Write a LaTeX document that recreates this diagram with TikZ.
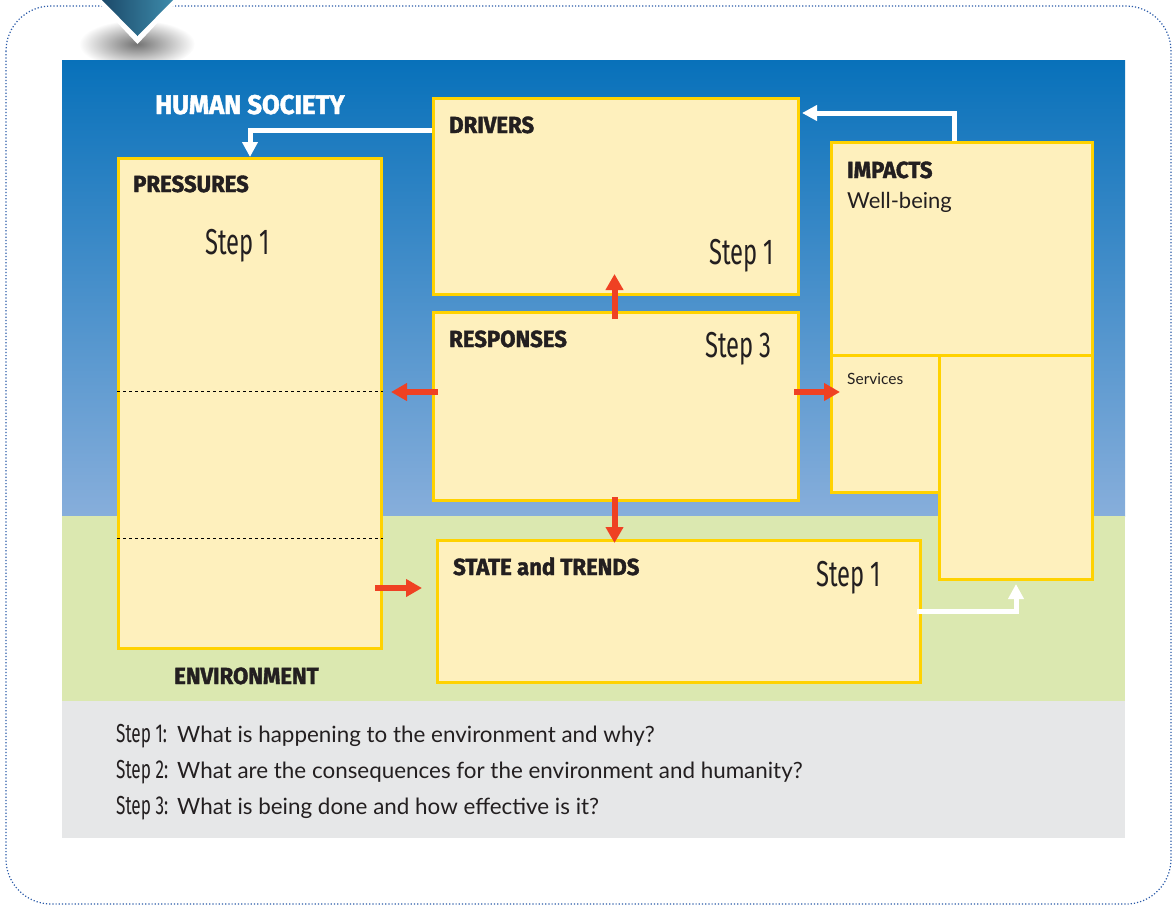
\documentclass[tikz,border=0pt]{standalone}
\usepackage{fontspec}
\setmainfont{Lato}
\newfontfamily\hfont[FakeStretch=0.95, FakeBold=1.6]{Fira Sans Bold}
\newfontfamily\stfont[FakeStretch=0.66]{Fira Sans}
\usetikzlibrary{arrows.meta}
\definecolor{boxfill}{HTML}{FEF0BD}
\definecolor{boxline}{HTML}{FFD200}
\definecolor{skytop}{HTML}{0871BA}
\definecolor{skybot}{HTML}{87AEDB}
\definecolor{landc}{HTML}{DBE8B0}
\definecolor{greyc}{HTML}{E6E7E8}
\definecolor{redc}{HTML}{EF4123}
\definecolor{txt}{HTML}{231F20}
\definecolor{framec}{HTML}{2A5AA8}
\definecolor{tabL}{HTML}{1C4A6A}
\definecolor{tabR}{HTML}{3D8BAB}
\tikzset{
  box/.style={draw=boxline, fill=boxfill, line width=3pt, anchor=north west, inner sep=0pt},
  head/.style={font=\hfont\fontsize{23.3}{23.3}\selectfont, text=txt, anchor=base west, inner sep=0pt},
  stepl/.style={font=\stfont\fontsize{36}{36}\selectfont, text=txt, anchor=base west, inner sep=0pt},
  body/.style={font=\fontsize{22}{22}\selectfont, text=txt, anchor=base west, inner sep=0pt},
  qline/.style={font=\fontsize{22.4}{22.4}\selectfont, text=txt, anchor=base west, inner sep=0pt},
  warrow/.style={draw=white, line width=5pt, -{Triangle[length=15pt,width=15pt]}},
  rarrow/.style={draw=redc, line width=6pt, -{Triangle[length=16pt,width=17pt]}}
}
\newcommand{\stp}[1]{\makebox[61pt][l]{\stfont\fontsize{26}{26}\selectfont #1}}
\begin{document}
\begin{tikzpicture}[x=1pt,y=-1pt]
\useasboundingbox (0,0) rectangle (1173,906);
% outer dotted frame
\draw[framec, dotted, line width=1.2pt, rounded corners=45pt] (6,6) rectangle (1171,904);
% tab shadow
\shade[inner color=black!55, outer color=white] (137,44) ellipse (58 and 24);
% backgrounds
\shade[top color=skytop, bottom color=skybot] (62,60) rectangle (1125,516);
\fill[landc] (62,516) rectangle (1125,701);
\fill[greyc] (62,701) rectangle (1125,838);
% tab
\fill[white] (96,0) -- (179,0) -- (137.5,44) -- cycle;
\shade[left color=tabL, right color=tabR] (102,0) -- (173,0) -- (137.5,36) -- cycle;
% boxes
\node[box, minimum width=263pt, minimum height=490pt] (press) at (117,157) {};
\node[box, minimum width=365pt, minimum height=196pt] (driv) at (432,97) {};
\node[box, minimum width=365pt, minimum height=188pt] (resp) at (432,311) {};
\node[box, minimum width=483pt, minimum height=142pt] (state) at (436,539) {};
\node[box, minimum width=261pt, minimum height=213pt] (imp) at (830,141) {};
\node[box, minimum width=108pt, minimum height=137pt] (serv) at (830,354) {};
\node[box, minimum width=153pt, minimum height=224pt] (wb) at (938,354) {};
% dashed lines in pressures
\draw[dashed, black, line width=0.8pt] (press.west |- 0,391) -- (press.east |- 0,391);
\draw[dashed, black, line width=0.8pt] (press.west |- 0,538) -- (press.east |- 0,538);
% labels
\node[head, text=white, font=\hfont\fontsize{27}{27}\selectfont] (hs) at (155,114) {HUMAN SOCIETY};
\node[head] (lpress) at (133,192) {PRESSURES};
\node[stepl] (s1a) at (205,254) {Step 1};
\node[head] (ldriv) at (449,133) {DRIVERS};
\node[stepl] (s1b) at (709,264) {Step 1};
\node[head] (limp) at (847,178) {IMPACTS};
\node[body] (lwb) at (847,208) {Well-being};
\node[head] (lresp) at (449,347) {RESPONSES};
\node[stepl] (s3) at (705,357) {Step 3};
\node[body, font=\fontsize{15.5}{15.5}\selectfont] (lserv) at (847,384) {Services};
\node[head] (lstate) at (453,575) {STATE and TRENDS};
\node[stepl] (s1c) at (816,586) {Step 1};
\node[head] (lenv) at (174,684) {ENVIRONMENT};
\node[qline] (q1) at (116,742) {\stp{Step 1:}What is happening to the environment and why?};
\node[qline] (q2) at (116,778) {\stp{Step 2:}What are the consequences for the environment and humanity?};
\node[qline] (q3) at (116,814) {\stp{Step 3:}What is being done and how effective is it?};
% white arrows
\coordinate (w1) at (250,130);
\draw[warrow] (driv.west |- w1) -| (press.north -| w1);
\coordinate (w2) at (954,113);
\draw[warrow] (imp.north -| w2) |- ([xshift=2pt]driv.east |- w2);
\coordinate (w3) at (1016,611);
\draw[warrow] ([xshift=-5pt]state.east |- w3) -| ([yshift=-3pt]wb.south -| w3);
% red arrows
\coordinate (rc) at (614.5,392);
\draw[rarrow] ([yshift=-8pt]resp.north -| rc) -- ([yshift=22pt]driv.south -| rc);
\draw[rarrow] ([yshift=5pt]resp.south -| rc) -- ([yshift=-4pt]state.north -| rc);
\draw[rarrow] ([xshift=6pt]resp.west |- rc) -- ([xshift=8pt]press.east |- rc);
\draw[rarrow] ([xshift=-6pt]resp.east |- rc) -- ([xshift=10pt]serv.west |- rc);
\coordinate (rb) at (0,588);
\draw[rarrow] ([xshift=-8pt]press.east |- rb) -- ([xshift=-14pt]state.west |- rb);
\end{tikzpicture}
\end{document}
